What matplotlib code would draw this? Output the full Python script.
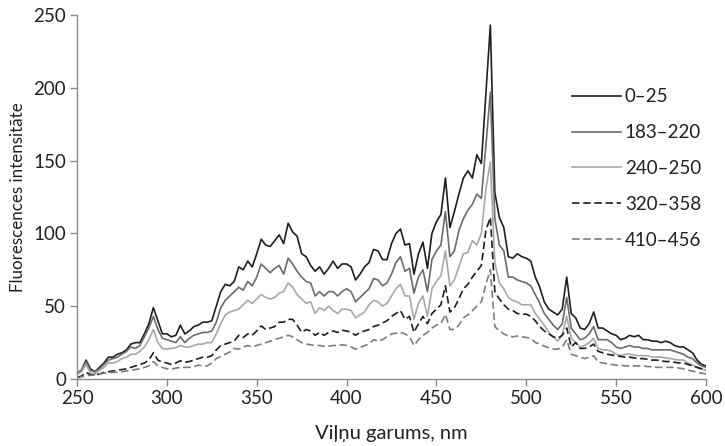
import numpy as np
import matplotlib
matplotlib.use("Agg")
import matplotlib.pyplot as plt

# Wavelength grid, nm (2.5 nm step)
wavelength = np.arange(250, 600.1, 2.5)

# Fluorescence intensity per range
series_labels = ["0–25", "183–220", "240–250", "320–358", "410–456"]

int_0_25 = [
    4, 6, 13, 7, 5, 8, 11, 15, 15, 17,
    18, 20, 24, 25, 25, 31, 38, 49, 40, 31,
    31, 29, 30, 37, 31, 33, 36, 37, 39, 39,
    40, 50, 60, 65, 64, 67, 77, 75, 81, 77,
    86, 96, 92, 91, 95, 99, 93, 107, 101, 98,
    86, 84, 78, 74, 77, 72, 76, 81, 76, 79,
    79, 77, 68, 72, 77, 80, 89, 88, 82, 82,
    93, 100, 103, 92, 93, 72, 86, 94, 76, 100,
    108, 113, 138, 104, 115, 127, 138, 143, 138, 154,
    148, 195, 243, 128, 111, 104, 84, 83, 86, 84,
    83, 81, 70, 63, 53, 48, 46, 44, 48, 70,
    45, 42, 35, 34, 38, 46, 35, 35, 33, 31,
    30, 27, 28, 30, 29, 30, 27, 27, 26, 26,
    25, 26, 25, 23, 22, 22, 20, 18, 13, 10,
    9,
]

int_183_220 = [
    4, 6, 12, 6, 5, 7, 10, 13, 14, 15,
    17, 19, 22, 21, 23, 29, 35, 43, 34, 28,
    27, 26, 25, 29, 25, 28, 30, 31, 32, 32,
    33, 39, 49, 54, 57, 60, 63, 61, 67, 64,
    70, 79, 76, 73, 76, 78, 72, 83, 79, 74,
    70, 67, 66, 57, 60, 57, 60, 60, 57, 60,
    62, 60, 53, 56, 59, 62, 69, 68, 64, 66,
    72, 80, 84, 74, 76, 59, 70, 75, 60, 82,
    88, 92, 115, 84, 88, 102, 110, 116, 120, 127,
    124, 160, 197, 110, 92, 88, 70, 70, 68, 67,
    66, 64, 58, 52, 45, 41, 37, 34, 38, 56,
    35, 31, 27, 28, 31, 36, 27, 27, 27, 25,
    22, 21, 22, 23, 22, 22, 21, 21, 20, 20,
    20, 20, 20, 19, 18, 17, 15, 14, 11, 9,
    8,
]

int_240_250 = [
    3, 5, 10, 4, 3.5, 6, 8, 11, 11, 12,
    14, 15, 17, 17, 19, 22, 27, 34, 25, 21,
    20.5, 21, 21.5, 23, 22, 22, 23, 24, 24, 25,
    25, 31, 38, 44, 46, 47, 48, 51, 54, 52,
    55, 58, 56, 55, 56, 59, 60, 66, 63, 58,
    55, 52, 53, 45, 49, 47, 50, 47, 45, 48,
    48, 47, 42, 44, 46, 51, 54, 53, 50, 52,
    57, 62, 65, 57, 57, 41, 52, 57, 43, 62,
    67, 71, 88, 64, 68, 77, 86, 87, 95, 92,
    100, 130, 149, 80, 66, 62, 56, 54, 53, 51,
    51, 51, 45, 41, 37, 32, 29, 26, 30, 43,
    28, 25, 22, 23, 25, 28, 21, 20, 20, 19,
    17, 16, 17, 17, 16.5, 16, 16, 16, 15, 15,
    15, 14.5, 14, 13.5, 13, 13, 11, 9.5, 8, 7,
    6,
]

int_320_358 = [
    1, 2, 4.5, 3, 2.5, 3.5, 4.5, 5, 5.5, 6,
    6.5, 7, 8, 9, 10, 11, 13, 18, 13, 11.5,
    11, 10, 11, 12.5, 11.5, 12, 13, 14, 15, 15,
    16, 20, 23, 24, 25, 26, 30, 28.5, 31, 30,
    33, 36.5, 34, 35, 36, 39, 39, 41, 41, 37,
    32, 34, 33, 30, 32, 30, 32, 33, 32, 33.5,
    33, 32, 30, 32, 33, 34, 36, 37, 38.5, 40,
    43, 45, 47, 41, 43, 32, 38, 43, 38, 45,
    48, 51, 64, 46, 49, 55, 62, 65, 70, 74,
    78, 102, 111, 60, 55, 51, 48, 47, 45, 44.5,
    44.5, 43, 40, 36, 33, 31, 29, 28, 30, 35,
    22, 25, 21, 21, 22, 24, 19, 18, 17, 16.5,
    16, 15.5, 15, 15, 14.5, 14, 14, 13.5, 13, 13,
    12.5, 12, 12, 11.5, 11, 11, 10, 9, 8, 7,
    6,
]

int_410_456 = [
    0.5, 1.5, 2.3, 2.5, 3, 3.4, 4, 4.3, 4.6, 4.6,
    5, 5.5, 6, 6.5, 7, 8, 9, 12, 9, 8,
    7, 6.8, 7.5, 8, 8, 8, 8.5, 9.5, 9, 9,
    11, 14, 15.5, 17, 18.5, 21, 20.5, 22, 23, 22,
    23, 24, 25, 26, 27, 28, 29, 30, 29, 27,
    25, 24, 23.5, 23, 23, 22.5, 22.5, 23, 23, 23.5,
    23, 22, 20.5, 21.5, 23, 24, 27, 26, 27, 29,
    31, 31.5, 32, 31, 29, 23, 27, 30, 32, 35,
    37, 38, 44.5, 34, 34, 37, 42, 44, 47, 50,
    53, 65, 75, 36, 33, 31, 29.5, 29, 29.5, 29,
    28.5, 28, 25, 24, 22.5, 21.5, 20.5, 20.5, 22, 27,
    17, 16, 15, 14, 15, 16, 11.5, 11, 10.5, 10,
    9.5, 9.5, 9, 9, 9, 9, 9, 8.5, 8.5, 8,
    8, 8, 8, 8, 7.5, 7, 6, 5.5, 4.5, 4,
    3.5,
]

series_values = [int_0_25, int_183_220, int_240_250, int_320_358, int_410_456]
series_colors = ["#1e1e1e", "#6b6b6b", "#a8a8a8", "#1e1e1e", "#7d7d7d"]
series_styles = ["-", "-", "-", (0, (4.5, 2.2)), (0, (4.5, 2.2))]

x_ticks = [250, 300, 350, 400, 450, 500, 550, 600]
y_ticks = [0, 50, 100, 150, 200, 250]

plt.rcParams["font.family"] = ["Lato", "DejaVu Sans"]
text_color = "#231f20"
axis_color = "#8a8a8a"
fs = 13.5

fig = plt.figure(figsize=(7.25, 4.46), dpi=100)
ax = fig.add_axes([77 / 725, 1 - 379 / 446, 629 / 725, 364 / 446])

for vals, lab, col, ls in zip(series_values, series_labels, series_colors, series_styles):
    ax.plot(wavelength, vals, color=col, linestyle=ls, linewidth=1.2, label=lab)

ax.set_xlim(250, 600)
ax.set_ylim(0, 250)
ax.set_xticks(x_ticks)
ax.set_yticks(y_ticks)

for side in ("top", "right"):
    ax.spines[side].set_visible(False)
for side in ("left", "bottom"):
    ax.spines[side].set_color(axis_color)
    ax.spines[side].set_linewidth(1.0)

ax.tick_params(axis="both", direction="out", length=5, width=1.0,
               color=axis_color, labelsize=fs, labelcolor=text_color, pad=3)

ax.set_xlabel("Viļņu garums, nm", fontsize=14.5, color=text_color, labelpad=13)
ax.set_ylabel("Fluorescences intensitāte", fontsize=12.2, color=text_color, labelpad=5)

leg = ax.legend(loc="upper left", bbox_to_anchor=(564 / 725, 1 - 81 / 446),
                bbox_transform=fig.transFigure, frameon=False,
                fontsize=fs, handlelength=2.65, handletextpad=0.2,
                labelspacing=1.0, borderaxespad=0)
for t in leg.get_texts():
    t.set_color(text_color)

fig.savefig("out.png", dpi=100)
